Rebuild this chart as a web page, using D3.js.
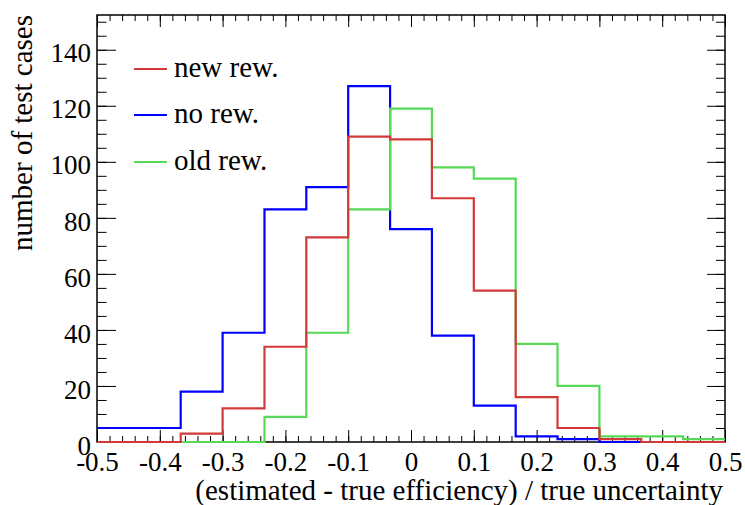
<!DOCTYPE html>
<html>
<head>
<meta charset="utf-8">
<script src="https://cdn.jsdelivr.net/npm/d3@7/dist/d3.min.js"></script>
<style>
  html, body { margin: 0; padding: 0; background: #fff; }
  svg { display: block; }
  svg text { font-family: "Liberation Serif", Tinos, "Times New Roman", "DejaVu Serif", serif; fill: #000; }
</style>
</head>
<body>
<svg id="chart" width="745" height="505"></svg>
<script>
// ---- data ----
const binEdges = [-0.5, -0.4333, -0.3667, -0.3, -0.2333, -0.1667, -0.1, -0.0333,
                  0.0333, 0.1, 0.1667, 0.2333, 0.3, 0.3667, 0.4333, 0.5];
const noRew  = [5, 5, 18, 39, 83, 91, 127, 76, 38, 13, 2, 1, 0, 0, 0];
const oldRew = [0, 0, 0, 0, 9, 39, 83, 119, 98, 94, 35, 20, 2, 2, 1];
const newRew = [0, 0, 3, 12, 34, 73, 109, 108, 87, 54, 16, 5, 1, 0, 0];
const seriesNames = ["new rew.", "no rew.", "old rew."];
const xTickValues = [-0.5, -0.4, -0.3, -0.2, -0.1, 0, 0.1, 0.2, 0.3, 0.4, 0.5];
const yTickValues = [0, 20, 40, 60, 80, 100, 120, 140];
const xTitle = "(estimated - true efficiency) / true uncertainty";
const yTitle = "number of test cases";

// ---- layout ----
const FONT = '"Liberation Serif", Tinos, "Times New Roman", "DejaVu Serif", serif';
const svg = d3.select("#chart");
const L = 97, R = 725, T = 15, B = 442;
const yMax = 152.4;
const x = d3.scaleLinear().domain([-0.5, 0.5]).range([L, R]);
const y = d3.scaleLinear().domain([0, yMax]).range([B, T]);

const colors = { "new rew.": "#d23a3a", "no rew.": "#0000ff", "old rew.": "#57d957" };

const xMinor = d3.range(-0.5, 0.5001, 0.02).map(v => Math.round(v * 100) / 100);
const yMinor = d3.range(0, yMax, 5);

const fmtX = d => { const r = Math.round(d * 10) / 10; return r === 0 ? "0" : r.toFixed(1); };

function styleAxis(g) {
  g.attr("font-family", FONT);
  g.select(".domain").remove();
  g.selectAll(".tick line").attr("stroke", "#000").attr("stroke-width", 1);
}

// frame
svg.append("rect").attr("x", L).attr("y", T).attr("width", R - L).attr("height", B - T)
  .attr("fill", "none").attr("stroke", "#000").attr("stroke-width", 1.5);

// bottom axis (major with labels)
const gxb = svg.append("g").attr("transform", `translate(0,${B})`)
  .call(d3.axisBottom(x).tickValues(xTickValues).tickSize(-12).tickPadding(10).tickFormat(fmtX));
styleAxis(gxb);
gxb.selectAll(".tick text").attr("font-size", 27).attr("fill", "#000");
svg.append("g").attr("transform", `translate(0,${B})`)
  .call(d3.axisBottom(x).tickValues(xMinor).tickSize(-6).tickFormat(""))
  .call(styleAxis);
// top axis
svg.append("g").attr("transform", `translate(0,${T})`)
  .call(d3.axisTop(x).tickValues(xTickValues).tickSize(-12).tickFormat(""))
  .call(styleAxis);
svg.append("g").attr("transform", `translate(0,${T})`)
  .call(d3.axisTop(x).tickValues(xMinor).tickSize(-6).tickFormat(""))
  .call(styleAxis);

// left axis
const gyl = svg.append("g").attr("transform", `translate(${L},0)`)
  .call(d3.axisLeft(y).tickValues(yTickValues).tickSize(-19).tickPadding(6).tickFormat(d3.format("d")));
styleAxis(gyl);
gyl.selectAll(".tick text").attr("font-size", 27).attr("fill", "#000").attr("dy", "0.45em");
svg.append("g").attr("transform", `translate(${L},0)`)
  .call(d3.axisLeft(y).tickValues(yMinor).tickSize(-9.5).tickFormat(""))
  .call(styleAxis);
// right axis
svg.append("g").attr("transform", `translate(${R},0)`)
  .call(d3.axisRight(y).tickValues(yTickValues).tickSize(-18).tickFormat(""))
  .call(styleAxis);
svg.append("g").attr("transform", `translate(${R},0)`)
  .call(d3.axisRight(y).tickValues(yMinor).tickSize(-9).tickFormat(""))
  .call(styleAxis);

// histograms
const line = d3.line().x(d => x(d[0])).y(d => y(d[1])).curve(d3.curveStepAfter);
function histPoints(vals) {
  const pts = vals.map((v, i) => [binEdges[i], v]);
  pts.push([binEdges[binEdges.length - 1], vals[vals.length - 1]]);
  return pts;
}
const drawOrder = [["no rew.", noRew], ["old rew.", oldRew], ["new rew.", newRew]];
drawOrder.forEach(([name, vals]) => {
  svg.append("path").attr("d", line(histPoints(vals)))
    .attr("fill", "none").attr("stroke", colors[name]).attr("stroke-width", 2.2);
});

// legend
const legY = [69, 115, 162];
seriesNames.forEach((name, i) => {
  svg.append("line").attr("x1", 134).attr("x2", 167).attr("y1", legY[i]).attr("y2", legY[i])
    .attr("stroke", colors[name]).attr("stroke-width", 2.2);
  svg.append("text").attr("x", 174).attr("y", legY[i] + 8).attr("font-size", 29)
    .attr("font-family", FONT).text(name);
});

// titles
svg.append("text").attr("x", 723).attr("y", 500).attr("text-anchor", "end")
  .attr("font-size", 29).attr("font-family", FONT).text(xTitle);
svg.append("text").attr("transform", "translate(32,15) rotate(-90)").attr("text-anchor", "end")
  .attr("font-size", 29).attr("font-family", FONT).text(yTitle);
</script>
</body>
</html>
